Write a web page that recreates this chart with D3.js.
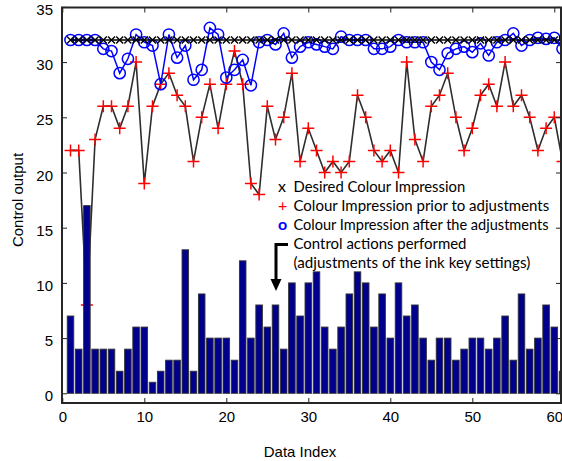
<!DOCTYPE html>
<html><head><meta charset="utf-8">
<script src="https://cdn.jsdelivr.net/npm/d3@7"></script>
<style>body{margin:0;background:#fff} svg{display:block}</style>
</head><body>
<script>
const dataIndex = [1,2,3,4,5,6,7,8,9,10,11,12,13,14,15,16,17,18,19,20,21,22,23,24,25,26,27,28,29,30,31,32,33,34,35,36,37,38,39,40,41,42,43,44,45,46,47,48,49,50,51,52,53,54,55,56,57,58,59,60,61];
const desired = [32,32,32,32,32,32,32,32,32,32,32,32,32,32,32,32,32,32,32,32,32,32,32,32,32,32,32,32,32,32,32,32,32,32,32,32,32,32,32,32,32,32,32,32,32,32,32,32,32,32,32,32,32,32,32,32,32,32,32,32,32];
const prior = [22,22,8,23,26,26,24,26,30,19,26,28,29,27,26,21,25,28,24,28,31,28,19,18,26,23,25,29,21,24,22,20,21,20,21,27,25,22,21,22,20,30,23,21,26,27,29,25,22,24,27,28,26,30,26,27,25,22,24,25,21];
const after = [32,32,32,32,31.2,31,29,30.3,32.5,31.8,31.5,28,32.5,30.4,31.5,28.4,29.3,33.1,32.5,28.6,29.3,30.2,27.9,31.8,32,31.6,32.6,30.4,31.4,31.8,31.6,31.4,31.2,32.3,32,32,32,31.2,31.2,31.4,32,31.8,31.8,31.8,30,29.3,30.8,31.2,31.4,30.9,31.7,30.6,31.8,32,32.6,31.5,32,32.2,32.1,32.2,31.2];
const actions = [7,4,17,4,4,4,2,4,6,6,1,2,3,3,13,2,9,5,5,5,3,12,5,8,6,8,4,10,7,10,11,6,4,6,9,11,10,6,9,5,10,7,8,5,3,5,5,3,4,5,5,4,5,7,3,9,4,5,8,6,2];
const xTicks = [0,10,20,30,40,50,60];
const yTicks = [0,5,10,15,20,25,30,35];
const legendLabels = ["Desired Colour Impression","Colour Impression prior to adjustments","Colour Impression after the adjustments"];
const legendSymbols = ["x","+","o"];
const legendColors = ["#000","#ff0000","#0000ff"];
const noteLines = ["Control actions performed","(adjustments of the ink key settings)"];

const W=562,H=461;
const L=62,R=561,T=7.5,B=403;
const svg = d3.select("body").append("svg").attr("width",W).attr("height",H);
const x = d3.scaleLinear().domain([0,61]).range([62.3,562.5]);
const y = d3.scaleLinear().domain([0,35]).range([393.3,6.9]);

svg.append("defs").append("clipPath").attr("id","clip")
  .append("rect").attr("x",L).attr("y",T).attr("width",R-L).attr("height",B-T);
const g = svg.append("g").attr("clip-path","url(#clip)");

// prior series
const line = d3.line().x((d,i)=>x(dataIndex[i])).y(d=>y(d));
g.append("path").datum(prior).attr("d",line).attr("fill","none").attr("stroke","#2e2e2e").attr("stroke-width",1.6);
g.selectAll(".pr").data(prior).join("path")
  .attr("transform",(d,i)=>`translate(${x(dataIndex[i])},${y(d)})`)
  .attr("d","M-6,0H6M0,-6V6").attr("stroke","#ff0000").attr("stroke-width",1.5).attr("fill","none");

// after series
g.append("path").datum(after).attr("d",line).attr("fill","none").attr("stroke","#0000ff").attr("stroke-width",1.5);
g.selectAll(".af").data(after).join("circle")
  .attr("cx",(d,i)=>x(dataIndex[i])).attr("cy",d=>y(d)).attr("r",5.6)
  .attr("fill","none").attr("stroke","#0000ff").attr("stroke-width",1.5);

// desired series
g.append("path").datum(desired).attr("d",line).attr("fill","none").attr("stroke","#000").attr("stroke-width",1.5);
g.selectAll(".de").data(desired).join("path")
  .attr("transform",(d,i)=>`translate(${x(dataIndex[i])},${y(d)})`)
  .attr("d","M-3.5,-3.5L3.5,3.5M-3.5,3.5L3.5,-3.5").attr("stroke","#000").attr("stroke-width",1.4);

// bars
const bw = x(0.8)-x(0);
g.selectAll(".bar").data(actions).join("rect")
  .attr("x",(d,i)=>x(dataIndex[i])-bw/2).attr("y",d=>y(d))
  .attr("width",bw).attr("height",d=>y(0)-y(d))
  .attr("fill","#00008c").attr("stroke","#333").attr("stroke-width",0.9);

// axes
const font = "Liberation Sans, Arial, sans-serif";
const fs = 15;
const xa = svg.append("g").attr("transform",`translate(0,${B})`)
  .call(d3.axisBottom(x).tickValues(xTicks).tickSize(-5).tickPadding(8).tickFormat(d3.format("d")));
const xt = svg.append("g").attr("transform",`translate(0,${T})`)
  .call(d3.axisTop(x).tickValues(xTicks).tickSize(-5).tickFormat(""));
const ya = svg.append("g").attr("transform",`translate(${L},0)`)
  .call(d3.axisLeft(y).tickValues(yTicks).tickSize(-5).tickPadding(9).tickFormat(d3.format("d")));
const yr = svg.append("g").attr("transform",`translate(${R},0)`)
  .call(d3.axisRight(y).tickValues(yTicks).tickSize(-5).tickFormat(""));
[xa,xt,ya,yr].forEach(a=>{
  a.select(".domain").remove();
  a.selectAll(".tick line").attr("stroke","#222").attr("stroke-width",1);
  a.selectAll("text").attr("font-family",font).attr("font-size",fs).attr("fill","#000");
});
ya.selectAll(".tick text").attr("dy","0.5em");
xa.selectAll(".tick").filter(d=>d===60).select("line").remove();
svg.append("rect").attr("x",L).attr("y",T).attr("width",R-L).attr("height",B-T)
  .attr("fill","none").attr("stroke","#262626").attr("stroke-width",2);

svg.append("text").attr("x",300).attr("y",457).attr("text-anchor","middle")
  .attr("font-family",font).attr("font-size",fs).text("Data Index");
svg.append("text").attr("transform","translate(23,200) rotate(-90)").attr("text-anchor","middle")
  .attr("font-family",font).attr("font-size",fs).text("Control output");

// legend
const lf = "Lato, 'Open Sans', sans-serif";
const rows = [191.5,210.5,229.5];
const widths = [171.7,255.7,255];
legendLabels.forEach((t,i)=>{
  svg.append("text").attr("x",278).attr("y",rows[i]).attr("font-family",lf).attr("font-size",16)
    .attr("font-weight",i===2?"bold":"normal").attr("fill",legendColors[i]).text(legendSymbols[i]);
  svg.append("text").attr("x",293.5).attr("y",rows[i]).attr("font-family",lf).attr("font-size",15)
    .attr("textLength",widths[i]).attr("lengthAdjust","spacingAndGlyphs").text(t);
});
const nrows=[248.5,267.5], nw=[173,236.7];
noteLines.forEach((t,i)=>{
  svg.append("text").attr("x",293.5).attr("y",nrows[i]).attr("font-family",lf).attr("font-size",15)
    .attr("textLength",nw[i]).attr("lengthAdjust","spacingAndGlyphs").text(t);
});
svg.append("path").attr("d","M288,244.5H276V281").attr("fill","none").attr("stroke","#000").attr("stroke-width",3);
svg.append("path").attr("d","M270.5,279H281.5L276,291Z").attr("fill","#000");
</script>
</body></html>
